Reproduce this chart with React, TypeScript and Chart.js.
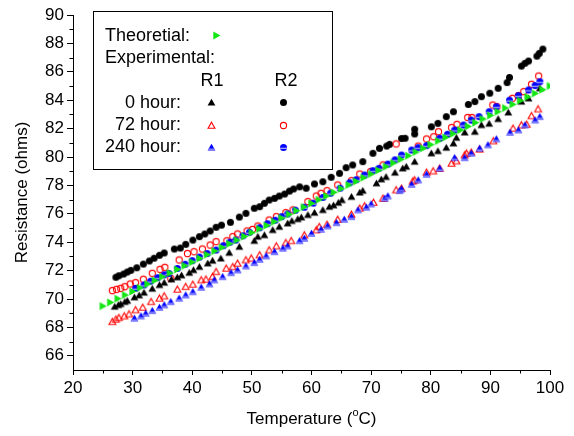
import React, { useEffect, useRef } from 'react';
import { Chart, registerables } from 'chart.js';

Chart.register(...registerables);

const FONT = "'Liberation Sans', Arial, Helvetica, sans-serif";

// ---- axis ticks ----
const xTickValues = [20, 30, 40, 50, 60, 70, 80, 90, 100];
const xMinorValues = [25, 35, 45, 55, 65, 75, 85, 95];
const yTickValues = [66, 68, 70, 72, 74, 76, 78, 80, 82, 84, 86, 88, 90];
const yMinorValues = [67, 69, 71, 73, 75, 77, 79, 81, 83, 85, 87, 89];

// ---- theoretical ----
const theoTemp = [25, 26.25, 27.5, 28.75, 30, 31.25, 32.5, 33.75, 35, 36.25, 37.5, 38.75, 40, 41.25, 42.5, 43.75, 45, 46.25, 47.5, 48.75, 50, 51.25, 52.5, 53.75, 55, 56.25, 57.5, 58.75, 60, 61.25, 62.5, 63.75, 65, 66.25, 67.5, 68.75, 70, 71.25, 72.5, 73.75, 75, 76.25, 77.5, 78.75, 80, 81.25, 82.5, 83.75, 85, 86.25, 87.5, 88.75, 90, 91.25, 92.5, 93.75, 95, 96.25, 97.5, 98.75, 100];
const theoRes = [69.5, 69.76, 70.02, 70.28, 70.53, 70.79, 71.05, 71.31, 71.57, 71.83, 72.08, 72.34, 72.6, 72.86, 73.12, 73.38, 73.63, 73.89, 74.15, 74.41, 74.67, 74.93, 75.18, 75.44, 75.7, 75.96, 76.22, 76.48, 76.73, 76.99, 77.25, 77.51, 77.77, 78.03, 78.28, 78.54, 78.8, 79.06, 79.32, 79.58, 79.84, 80.09, 80.35, 80.61, 80.87, 81.13, 81.38, 81.64, 81.9, 82.16, 82.42, 82.68, 82.93, 83.19, 83.45, 83.71, 83.97, 84.23, 84.48, 84.74, 85.0];

// ---- R1, 0 hour ----
const r1h0Temp = [27.0, 27.6, 28.0, 28.7, 29.1, 30.3, 31.1, 31.9, 33.3, 34.5, 35.3, 36.5, 37.5, 38.2, 39.5, 40.2, 41.2, 42.6, 43.4, 44.8, 46.2, 47.9, 50.4, 51.0, 52.1, 53.5, 54.6, 56.0, 56.7, 57.7, 58.3, 59.4, 60.5, 61.9, 63.0, 63.7, 64.5, 65.1, 66.7, 68.1, 68.6, 70.9, 71.7, 72.5, 74.0, 75.3, 75.9, 77.3, 80.1, 81.2, 82.6, 83.8, 84.3, 85.7, 87.4, 88.5, 89.8, 91.3, 93.0, 95.2, 96.4, 98.3];
const r1h0Res = [69.46, 69.58, 69.65, 69.8, 69.88, 70.12, 70.26, 70.45, 70.73, 70.99, 71.15, 71.39, 71.53, 71.67, 71.85, 72.04, 72.27, 72.51, 72.7, 72.86, 73.26, 73.68, 74.1, 74.39, 74.5, 74.86, 75.09, 75.33, 75.5, 75.63, 75.75, 75.92, 76.08, 76.27, 76.5, 76.6, 76.78, 76.97, 77.2, 77.5, 77.63, 78.15, 78.43, 78.6, 78.9, 79.2, 79.32, 79.67, 80.26, 80.42, 80.66, 80.96, 81.36, 81.73, 81.78, 82.25, 82.35, 82.68, 83.14, 83.9, 84.13, 84.84];

// ---- R2, 0 hour ----
const r2h0Temp = [27.2, 27.7, 28.5, 29.1, 29.7, 30.7, 31.8, 32.8, 33.6, 34.5, 35.3, 37.0, 38.0, 38.9, 40.1, 41.2, 42.1, 43.0, 44.0, 44.9, 46.4, 47.9, 49.0, 50.4, 51.3, 52.1, 52.9, 53.8, 54.6, 55.5, 56.3, 57.0, 58.0, 59.1, 60.5, 61.9, 63.3, 64.7, 65.8, 66.9, 68.6, 70.3, 71.4, 72.6, 73.1, 75.1, 75.7, 77.3, 77.3, 80.1, 81.2, 82.6, 83.8, 86.3, 87.4, 88.5, 89.9, 91.3, 92.8, 93.2, 95.2, 95.8, 96.4, 97.8, 98.2, 98.8];
const r2h0Res = [71.53, 71.64, 71.76, 71.9, 72.02, 72.2, 72.46, 72.68, 72.87, 73.08, 73.24, 73.52, 73.59, 73.85, 74.15, 74.39, 74.58, 74.79, 75.05, 75.2, 75.4, 75.77, 76.03, 76.39, 76.5, 76.74, 76.97, 77.09, 77.25, 77.39, 77.6, 77.75, 77.9, 77.8, 78.1, 78.26, 78.57, 78.85, 79.25, 79.44, 79.67, 80.26, 80.61, 80.77, 80.89, 81.3, 81.32, 81.95, 81.62, 82.13, 82.37, 82.84, 83.19, 83.7, 83.9, 84.25, 84.49, 84.84, 85.24, 85.6, 86.4, 86.6, 86.76, 87.1, 87.3, 87.6];

// ---- R1, 72 hour ----
const r1h72Temp = [26.6, 27.2, 27.7, 28.6, 29.4, 30.5, 31.7, 33.1, 34.5, 35.3, 37.5, 38.9, 40.1, 41.5, 42.3, 43.4, 44.0, 45.7, 46.8, 47.6, 49.0, 49.9, 51.3, 52.9, 54.1, 55.7, 56.6, 58.8, 60.8, 61.3, 62.6, 64.4, 66.7, 68.1, 68.9, 70.4, 72.0, 74.2, 75.1, 77.0, 77.3, 79.3, 80.4, 81.5, 83.5, 84.3, 85.7, 86.0, 86.8, 88.2, 90.5, 93.8, 95.2, 96.1, 96.9, 98.0];
const r1h72Res = [68.4, 68.57, 68.68, 68.8, 68.94, 69.23, 69.41, 69.81, 70.05, 70.21, 70.68, 70.87, 71.03, 71.34, 71.39, 71.57, 71.92, 72.16, 72.27, 72.51, 72.75, 72.87, 73.1, 73.45, 73.73, 73.96, 74.1, 74.5, 74.86, 75.09, 75.25, 75.6, 75.96, 76.39, 76.55, 76.8, 77.09, 77.68, 77.79, 78.3, 78.38, 78.92, 79.01, 79.2, 79.55, 79.72, 80.14, 80.26, 80.33, 80.55, 81.13, 82.02, 82.25, 82.3, 82.9, 83.38];

// ---- R2, 72 hour ----
const r2h72Temp = [26.6, 27.3, 28.0, 28.7, 29.6, 30.5, 31.8, 33.3, 34.6, 35.4, 36.4, 37.8, 39.2, 40.3, 41.7, 43.0, 44.0, 45.8, 46.8, 47.6, 49.2, 50.1, 51.0, 52.9, 54.1, 55.7, 56.9, 59.4, 60.8, 61.6, 62.6, 64.4, 66.7, 68.1, 69.9, 72.0, 74.2, 77.9, 79.3, 80.5, 81.3, 83.5, 84.4, 86.2, 86.9, 90.4, 91.1, 93.7, 94.7, 95.6, 96.9, 98.1];
const r2h72Res = [70.59, 70.68, 70.75, 70.87, 71.06, 71.15, 71.39, 71.81, 72.09, 72.23, 71.45, 72.75, 73.2, 73.33, 73.52, 73.8, 74.04, 74.1, 74.39, 74.58, 74.79, 74.9, 75.14, 75.56, 75.8, 76.08, 76.27, 76.86, 77.25, 77.44, 77.63, 78.03, 78.33, 78.8, 78.97, 79.44, 80.92, 80.77, 81.27, 81.43, 81.78, 82.07, 82.3, 82.78, 82.78, 83.66, 83.54, 84.13, 84.32, 84.6, 85.12, 85.7];

// ---- R1, 240 hour ----
const r1h240Temp = [30.3, 31.4, 32.2, 33.3, 34.5, 35.3, 36.4, 37.8, 38.9, 40.1, 41.5, 42.9, 43.7, 45.1, 46.5, 47.6, 49.0, 50.4, 51.3, 52.4, 53.8, 55.2, 56.0, 58.0, 58.8, 60.0, 61.6, 62.7, 64.2, 65.5, 66.7, 67.8, 69.2, 70.0, 72.3, 72.8, 74.8, 75.1, 76.8, 77.9, 79.3, 81.5, 84.0, 85.7, 86.8, 88.2, 89.6, 91.0, 93.3, 94.7, 95.8, 97.5, 98.3];
const r1h240Res = [68.64, 68.8, 68.99, 69.18, 69.41, 69.58, 69.81, 70.05, 70.28, 70.51, 70.82, 71.06, 71.34, 71.57, 71.85, 72.04, 72.32, 72.56, 72.79, 73.03, 73.33, 73.57, 73.73, 74.1, 74.27, 74.62, 74.9, 75.14, 75.37, 75.61, 75.8, 76.27, 76.46, 76.69, 77.09, 77.25, 77.63, 77.75, 78.07, 78.38, 78.78, 79.2, 79.95, 79.95, 80.26, 80.61, 80.85, 81.27, 81.73, 81.9, 82.25, 82.6, 82.84];

// ---- R2, 240 hour ----
const r2h240Temp = [30.5, 31.9, 33.0, 34.2, 35.3, 36.1, 37.5, 38.8, 40.0, 41.2, 42.5, 44.0, 45.2, 46.3, 47.3, 48.5, 49.6, 51.3, 52.6, 53.9, 55.0, 56.0, 57.3, 58.8, 60.3, 61.9, 63.2, 64.8, 66.4, 67.5, 68.9, 70.3, 71.3, 72.8, 74.0, 75.1, 76.8, 77.9, 79.3, 81.5, 82.8, 84.0, 85.5, 86.8, 88.1, 89.8, 91.0, 93.2, 94.7, 96.4, 97.5, 98.3];
const r2h240Res = [70.75, 70.99, 71.25, 71.5, 71.7, 71.8, 72.15, 72.45, 72.7, 72.95, 73.2, 73.45, 73.75, 74.0, 74.15, 74.45, 74.7, 75.02, 75.3, 75.55, 75.8, 75.99, 76.25, 76.46, 76.75, 77.15, 77.45, 77.8, 78.19, 78.4, 78.73, 79.04, 79.2, 79.5, 79.8, 80.14, 80.49, 80.66, 80.8, 81.32, 81.6, 81.9, 82.25, 82.6, 82.84, 83.19, 83.54, 84.0, 84.32, 84.72, 85.03, 85.3];

const GREEN = '#14e614';
const RED = '#ff0000';
const BLUE = '#0000ff';

type Ctx = CanvasRenderingContext2D;

function makeMarker(draw: (ctx: Ctx) => void, size = 11): HTMLCanvasElement {
  const c = document.createElement('canvas');
  c.width = size;
  c.height = size;
  const ctx = c.getContext('2d') as Ctx;
  ctx.translate(size / 2, size / 2);
  draw(ctx);
  return c;
}

function triUp(ctx: Ctx) {
  ctx.beginPath();
  ctx.moveTo(0, -3.8);
  ctx.lineTo(3.9, 3.1);
  ctx.lineTo(-3.9, 3.1);
  ctx.closePath();
}

function circ(ctx: Ctx, r: number) {
  ctx.beginPath();
  ctx.arc(0, 0, r, 0, Math.PI * 2);
  ctx.closePath();
}

function buildMarkers() {
  return {
    theo: makeMarker((ctx) => {
      ctx.beginPath();
      ctx.moveTo(-3.2, -4);
      ctx.lineTo(4, 0);
      ctx.lineTo(-3.2, 4);
      ctx.closePath();
      ctx.fillStyle = GREEN;
      ctx.fill();
    }),
    r1h0: makeMarker((ctx) => {
      triUp(ctx);
      ctx.fillStyle = '#000';
      ctx.fill();
    }),
    r2h0: makeMarker((ctx) => {
      circ(ctx, 3.5);
      ctx.fillStyle = '#000';
      ctx.fill();
    }),
    r1h72: makeMarker((ctx) => {
      ctx.beginPath();
      ctx.moveTo(0, -3.3);
      ctx.lineTo(3.4, 2.7);
      ctx.lineTo(-3.4, 2.7);
      ctx.closePath();
      ctx.strokeStyle = RED;
      ctx.lineWidth = 1.1;
      ctx.stroke();
    }),
    r2h72: makeMarker((ctx) => {
      circ(ctx, 3.1);
      ctx.strokeStyle = RED;
      ctx.lineWidth = 1.1;
      ctx.stroke();
    }),
    r1h240: makeMarker((ctx) => {
      triUp(ctx);
      ctx.fillStyle = BLUE;
      ctx.fill();
      ctx.save();
      triUp(ctx);
      ctx.clip();
      ctx.fillStyle = '#8c8cff';
      ctx.fillRect(-5, 1.0, 10, 1.4);
      ctx.restore();
    }),
    r2h240: makeMarker((ctx) => {
      circ(ctx, 3.5);
      ctx.fillStyle = BLUE;
      ctx.fill();
      ctx.save();
      circ(ctx, 3.5);
      ctx.clip();
      ctx.fillStyle = '#b4b4ff';
      ctx.fillRect(-5, 0.2, 10, 1.2);
      ctx.restore();
    }),
  };
}

function pts(xs: number[], ys: number[]) {
  return xs.map((x, i) => ({ x, y: ys[i] }));
}

export default function App() {
  const ref = useRef<HTMLCanvasElement | null>(null);

  useEffect(() => {
    const canvas = ref.current;
    if (!canvas) return;
    const m = buildMarkers();

    const decorPlugin = {
      id: 'decor',
      afterDraw(chart: any) {
        const ctx: Ctx = chart.ctx;
        const xs = chart.scales.x;
        const ys = chart.scales.y;
        const area = chart.chartArea;
        ctx.save();
        // minor ticks
        ctx.strokeStyle = '#000';
        ctx.lineWidth = 1;
        ctx.beginPath();
        xMinorValues.forEach((v) => {
          const px = Math.round(xs.getPixelForValue(v)) + 0.5;
          ctx.moveTo(px, area.bottom);
          ctx.lineTo(px, area.bottom + 3.5);
        });
        yMinorValues.forEach((v) => {
          const py = Math.round(ys.getPixelForValue(v)) + 0.5;
          ctx.moveTo(area.left, py);
          ctx.lineTo(area.left - 3.5, py);
        });
        ctx.stroke();

        // axis titles
        ctx.fillStyle = '#000';
        ctx.textBaseline = 'middle';
        const tf = `17px ${FONT}`;
        const sf = `11px ${FONT}`;
        ctx.font = tf;
        const p1 = 'Temperature (';
        const p3 = 'C)';
        ctx.font = tf;
        const w1 = ctx.measureText(p1).width;
        const w3 = ctx.measureText(p3).width;
        ctx.font = sf;
        const w2 = ctx.measureText('o').width;
        const total = w1 + w2 + w3;
        const cx = (area.left + area.right) / 2;
        const ty = 419;
        let sx = cx - total / 2;
        ctx.textAlign = 'left';
        ctx.font = tf;
        ctx.fillText(p1, sx, ty);
        sx += w1;
        ctx.font = sf;
        ctx.fillText('o', sx, ty - 6);
        sx += w2;
        ctx.font = tf;
        ctx.fillText(p3, sx, ty);

        ctx.save();
        ctx.translate(22, (area.top + area.bottom) / 2);
        ctx.rotate(-Math.PI / 2);
        ctx.textAlign = 'center';
        ctx.font = tf;
        ctx.fillText('Resistance (ohms)', 0, 0);
        ctx.restore();

        // legend box
        const bx = 93.5, by = 11.5, bw = 239, bh = 158;
        ctx.fillStyle = '#fff';
        ctx.fillRect(bx, by, bw, bh);
        ctx.strokeStyle = '#000';
        ctx.lineWidth = 1;
        ctx.strokeRect(bx, by, bw, bh);

        ctx.fillStyle = '#000';
        ctx.font = `18px ${FONT}`;
        ctx.textAlign = 'left';
        ctx.fillText('Theoretial:', 105, 36);
        ctx.fillText('Experimental:', 105, 58);
        ctx.textAlign = 'center';
        ctx.fillText('R1', 212, 81);
        ctx.fillText('R2', 286, 81);
        ctx.textAlign = 'right';
        ctx.fillText('0 hour:', 181, 103);
        ctx.fillText('72 hour:', 181, 125);
        ctx.fillText('240 hour:', 181, 147);

        const put = (img: HTMLCanvasElement, x: number, y: number) => {
          ctx.drawImage(img, Math.round(x - img.width / 2), Math.round(y - img.height / 2));
        };
        put(m.theo, 216, 35);
        put(m.r1h0, 211, 102);
        put(m.r2h0, 283, 102);
        put(m.r1h72, 211, 125);
        put(m.r2h72, 283, 125);
        put(m.r1h240, 211, 147);
        put(m.r2h240, 283, 147);
        ctx.restore();
      },
    };

    const mk = (label: string, data: any[], img: HTMLCanvasElement) => ({
      label,
      data,
      pointStyle: img,
      pointRadius: 4,
      pointHoverRadius: 4,
      showLine: false,
      borderColor: 'transparent',
      backgroundColor: 'transparent',
    });

    const chart = new Chart(canvas, {
      type: 'scatter',
      data: {
        datasets: [
          mk('Theoretial', pts(theoTemp, theoRes), m.theo),
          mk('R1 0 hour', pts(r1h0Temp, r1h0Res), m.r1h0),
          mk('R2 240 hour', pts(r2h240Temp, r2h240Res), m.r2h240),
          mk('R2 72 hour', pts(r2h72Temp, r2h72Res), m.r2h72),
          mk('R2 0 hour', pts(r2h0Temp, r2h0Res), m.r2h0),
          mk('R1 240 hour', pts(r1h240Temp, r1h240Res), m.r1h240),
          mk('R1 72 hour', pts(r1h72Temp, r1h72Res), m.r1h72),
        ],
      },
      options: {
        animation: false,
        responsive: false,
        events: [],
        layout: { padding: { top: 15, right: 24, left: 0, bottom: 0 } },
        plugins: {
          legend: { display: false },
          tooltip: { enabled: false },
          title: { display: false },
        },
        scales: {
          x: {
            type: 'linear',
            min: 20,
            max: 100,
            afterBuildTicks: (s: any) => {
              s.ticks = xTickValues.map((v) => ({ value: v }));
            },
            afterFit: (s: any) => {
              s.height = 66;
            },
            grid: {
              display: true,
              drawOnChartArea: false,
              drawTicks: true,
              tickLength: 5,
              color: '#000',
            },
            border: { display: true, color: '#000', width: 1 },
            ticks: {
              color: '#000',
              font: { family: FONT, size: 17 },
              padding: 3,
              maxRotation: 0,
              autoSkip: false,
            },
          },
          y: {
            type: 'linear',
            min: 65,
            max: 90,
            afterBuildTicks: (s: any) => {
              s.ticks = yTickValues.map((v) => ({ value: v }));
            },
            afterFit: (s: any) => {
              s.width = 73;
            },
            grid: {
              display: true,
              drawOnChartArea: false,
              drawTicks: true,
              tickLength: 6,
              color: '#000',
            },
            border: { display: true, color: '#000', width: 1 },
            ticks: {
              color: '#000',
              font: { family: FONT, size: 17 },
              padding: 3,
              autoSkip: false,
            },
          },
        },
      },
      plugins: [decorPlugin],
    } as any);

    return () => {
      chart.destroy();
    };
  }, []);

  return (
    <div style={{ position: 'fixed', left: 0, top: 0, width: 574, height: 436, background: '#fff' }}>
      <canvas ref={ref} width={574} height={436} style={{ display: 'block' }} />
    </div>
  );
}
